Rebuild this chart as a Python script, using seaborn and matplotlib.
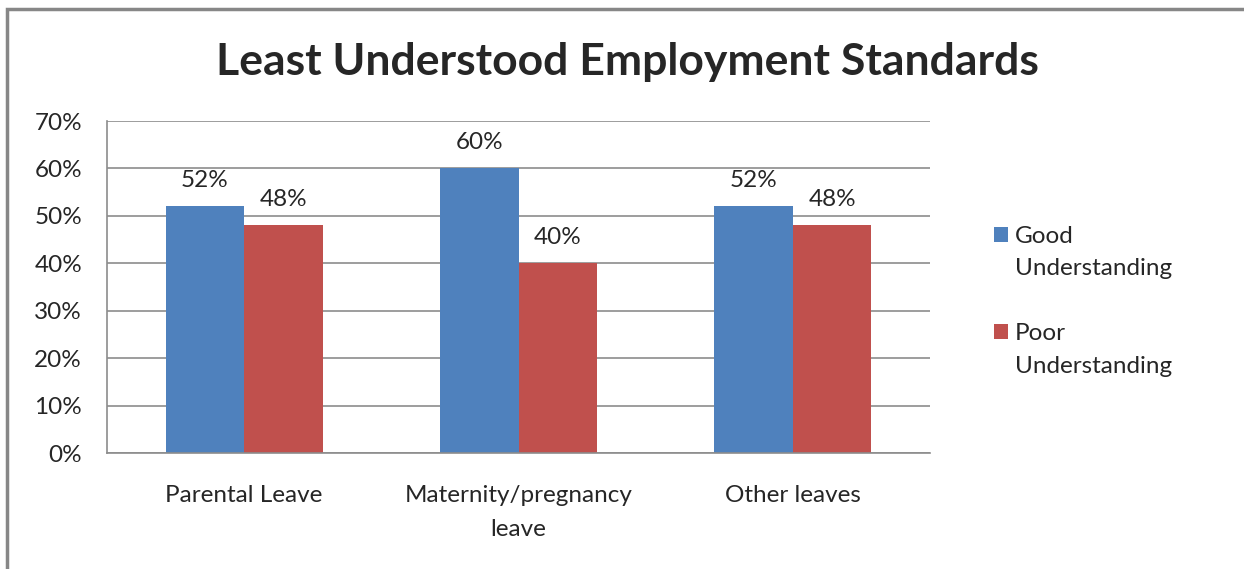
import matplotlib
matplotlib.use("Agg")
import matplotlib.pyplot as plt
import seaborn as sns
import pandas as pd
from matplotlib.patches import Rectangle, Patch

categories = ["Parental Leave", "Maternity/pregnancy\nleave", "Other leaves"]
good = [52, 60, 52]
poor = [48, 40, 48]
series_names = ["Good Understanding", "Poor Understanding"]
colors = ["#4F81BD", "#C0504D"]
yticks = [0, 10, 20, 30, 40, 50, 60, 70]

df = pd.DataFrame({
    "category": categories * 2,
    "value": good + poor,
    "series": [series_names[0]] * 3 + [series_names[1]] * 3,
})

sns.set_theme(style="white")
plt.rcParams["font.family"] = ["Lato", "DejaVu Sans"]

W, H = 1244, 569
FS = 17.5
fig = plt.figure(figsize=(W / 100, H / 100), dpi=100)
ax = fig.add_axes([107 / W, 1 - 453 / H, (930 - 107) / W, (453 - 121) / H])

sns.barplot(data=df, x="category", y="value", hue="series", palette=colors,
            width=0.572, saturation=1, ax=ax, legend=False, edgecolor="none")

ax.set_xlim(-0.5, 2.5)
ax.set_ylim(0, 70)
ax.set_yticks(yticks)
ax.set_yticklabels([f"{t}%" for t in yticks], fontsize=FS)
ax.tick_params(axis="x", labelsize=FS, length=0, pad=23)
ax.tick_params(axis="y", length=0, pad=18)
for lbl in ax.get_xticklabels():
    lbl.set_linespacing(1.75)
ax.set_xlabel("")
ax.set_ylabel("")
ax.yaxis.grid(True, color="#8C8C8C", linewidth=1.2)
ax.set_axisbelow(True)
for side in ["top", "right"]:
    ax.spines[side].set_visible(False)
for side in ["left", "bottom"]:
    ax.spines[side].set_color("#8C8C8C")
    ax.spines[side].set_linewidth(1.2)

for container in ax.containers:
    ax.bar_label(container, labels=[f"{v:.0f}%" for v in container.datavalues],
                 fontsize=FS, padding=11)

fig.text(627 / W, 1 - 62 / H, "Least Understood Employment Standards",
         ha="center", va="center", fontsize=32, fontweight="bold")

# Legend: each series name wraps onto two rows, with an empty row between series
handles, labels = [], []
for i, (c, name) in enumerate(zip(colors, series_names)):
    first, second = name.split(" ", 1)
    handles += [Patch(facecolor=c, edgecolor="none"),
                Patch(facecolor="none", edgecolor="none")]
    labels += [first, second]
    if i < len(colors) - 1:
        handles.append(Patch(facecolor="none", edgecolor="none"))
        labels.append(" ")
leg = fig.legend(handles, labels, loc="upper left",
                 bbox_to_anchor=(972 / W, 1 - 204 / H), frameon=False,
                 fontsize=FS, handlelength=0.6, handleheight=0.6,
                 handletextpad=0.25, labelspacing=0.47)

fig.patches.append(Rectangle((7 / W, -0.1), 1.2, 1 - 9 / H + 0.1,
                             transform=fig.transFigure, fill=False,
                             edgecolor="#878787", linewidth=2.5))

fig.savefig("out.png", dpi=100)
